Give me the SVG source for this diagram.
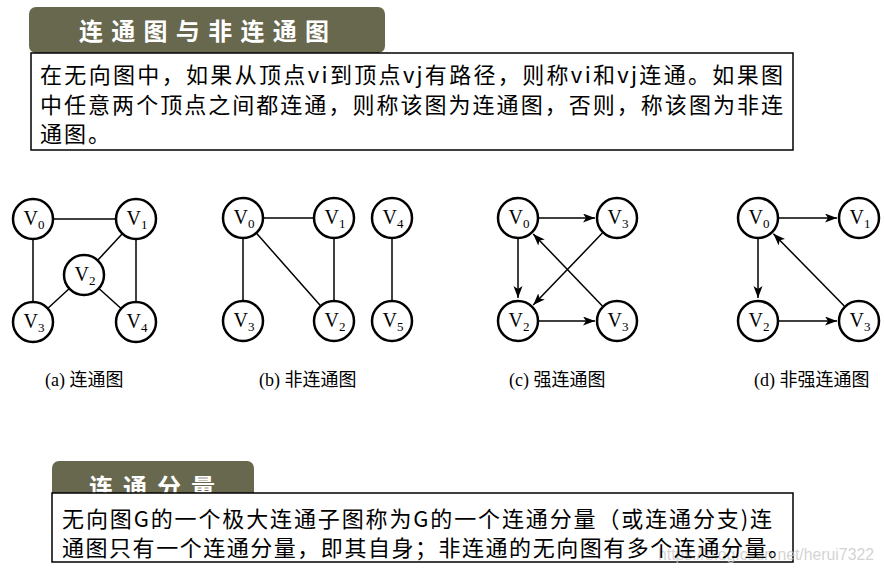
<svg xmlns="http://www.w3.org/2000/svg" width="884" height="571" viewBox="0 0 884 571">
<defs>
<style>
.banner{fill:#68684f}
.bt{fill:#fff;font-family:"Noto Sans CJK SC",sans-serif;font-weight:bold;font-size:24px}
.box{fill:#fff;stroke:#000;stroke-width:1.5}
.bx{fill:#000;font-family:"Noto Sans CJK SC",sans-serif;font-size:22px}
.n{fill:#fff;stroke:#000;stroke-width:2.5}
.v{font-family:"Liberation Serif",serif;font-size:20px;fill:#000;text-anchor:middle}
.s{font-size:13px}
.e{stroke:#000;stroke-width:1.5;fill:none}
.a{stroke:#000;stroke-width:1.5;fill:none;marker-end:url(#arr)}
.cap{font-family:"Liberation Serif","Noto Sans CJK SC",serif;font-size:18px;fill:#000}
.wm{font-family:"Liberation Sans",sans-serif;font-size:16px;fill:#c8c8c8;fill-opacity:0.8}
</style>
<marker id="arr" markerUnits="userSpaceOnUse" markerWidth="13" markerHeight="10" refX="12" refY="4.5" orient="auto">
<path d="M0,0 L12,4.5 L0,9 L3,4.5 z" fill="#000"/>
</marker>
</defs>
<rect width="884" height="571" fill="#fff"/>

<g id="banner1">
<rect class="banner" x="29" y="7" width="356" height="46" rx="7"/>
<text class="bt" x="79" y="40" textLength="250" lengthAdjust="spacing">连通图与非连通图</text>
</g>
<g id="box1">
<rect class="box" x="31" y="53" width="762" height="97"/>
<text class="bx" x="40" y="83" textLength="743" lengthAdjust="spacing">在无向图中，如果从顶点vi到顶点vj有路径，则称vi和vj连通。如果图</text>
<text class="bx" x="40" y="113" textLength="743" lengthAdjust="spacing">中任意两个顶点之间都连通，则称该图为连通图，否则，称该图为非连</text>
<text class="bx" x="40" y="142" textLength="70" lengthAdjust="spacing">通图。</text>
</g>

<g id="connectors">
<!-- (a) -->
<line class="e" x1="33" y1="219" x2="136" y2="219"/>
<line class="e" x1="33" y1="219" x2="33" y2="322"/>
<line class="e" x1="136" y1="219" x2="136" y2="322"/>
<line class="e" x1="136" y1="219" x2="84" y2="275"/>
<line class="e" x1="84" y1="275" x2="33" y2="322"/>
<line class="e" x1="84" y1="275" x2="136" y2="322"/>
<!-- (b) -->
<line class="e" x1="243" y1="218" x2="334" y2="218"/>
<line class="e" x1="243" y1="218" x2="243" y2="321"/>
<line class="e" x1="243" y1="218" x2="334" y2="321"/>
<line class="e" x1="334" y1="218" x2="334" y2="321"/>
<line class="e" x1="392" y1="218" x2="392" y2="321"/>
<!-- (c) -->
<line class="a" x1="539" y1="218" x2="595" y2="218"/>
<line class="a" x1="518" y1="239" x2="518" y2="298"/>
<line class="a" x1="602.4" y1="233.1" x2="533.2" y2="305.1"/>
<line class="a" x1="602.4" y1="305.9" x2="533.2" y2="233.9"/>
<line class="a" x1="539" y1="321" x2="595" y2="321"/>
<!-- (d) -->
<line class="a" x1="779" y1="218" x2="837" y2="218"/>
<line class="a" x1="758" y1="239" x2="758" y2="298"/>
<line class="a" x1="779" y1="321" x2="837" y2="321"/>
<line class="a" x1="844.3" y1="306" x2="773.4" y2="233.7"/>
</g>

<!-- (a) nodes -->
<g id="a-v0"><circle class="n" cx="33" cy="219" r="20"/><text class="v" x="34" y="225">V<tspan class="s" dy="4">0</tspan></text></g>
<g id="a-v1"><circle class="n" cx="136" cy="219" r="20"/><text class="v" x="137" y="225">V<tspan class="s" dy="4">1</tspan></text></g>
<g id="a-v2"><circle class="n" cx="84" cy="275" r="20"/><text class="v" x="85" y="281">V<tspan class="s" dy="4">2</tspan></text></g>
<g id="a-v3"><circle class="n" cx="33" cy="322" r="20"/><text class="v" x="34" y="328">V<tspan class="s" dy="4">3</tspan></text></g>
<g id="a-v4"><circle class="n" cx="136" cy="322" r="20"/><text class="v" x="137" y="328">V<tspan class="s" dy="4">4</tspan></text></g>
<text class="cap" x="45" y="386">(a) 连通图</text>

<!-- (b) nodes -->
<g id="b-v0"><circle class="n" cx="243" cy="218" r="20"/><text class="v" x="244" y="224">V<tspan class="s" dy="4">0</tspan></text></g>
<g id="b-v1"><circle class="n" cx="334" cy="218" r="20"/><text class="v" x="335" y="224">V<tspan class="s" dy="4">1</tspan></text></g>
<g id="b-v4"><circle class="n" cx="392" cy="218" r="20"/><text class="v" x="393" y="224">V<tspan class="s" dy="4">4</tspan></text></g>
<g id="b-v3"><circle class="n" cx="243" cy="321" r="20"/><text class="v" x="244" y="327">V<tspan class="s" dy="4">3</tspan></text></g>
<g id="b-v2"><circle class="n" cx="334" cy="321" r="20"/><text class="v" x="335" y="327">V<tspan class="s" dy="4">2</tspan></text></g>
<g id="b-v5"><circle class="n" cx="392" cy="321" r="20"/><text class="v" x="393" y="327">V<tspan class="s" dy="4">5</tspan></text></g>
<text class="cap" x="259" y="386">(b) 非连通图</text>

<!-- (c) nodes -->
<g id="c-v0"><circle class="n" cx="518" cy="218" r="20"/><text class="v" x="519" y="224">V<tspan class="s" dy="4">0</tspan></text></g>
<g id="c-v3a"><circle class="n" cx="617" cy="218" r="20"/><text class="v" x="618" y="224">V<tspan class="s" dy="4">3</tspan></text></g>
<g id="c-v2"><circle class="n" cx="518" cy="321" r="20"/><text class="v" x="519" y="327">V<tspan class="s" dy="4">2</tspan></text></g>
<g id="c-v3b"><circle class="n" cx="617" cy="321" r="20"/><text class="v" x="618" y="327">V<tspan class="s" dy="4">3</tspan></text></g>
<text class="cap" x="509" y="386">(c) 强连通图</text>

<!-- (d) nodes -->
<g id="d-v0"><circle class="n" cx="758" cy="218" r="20"/><text class="v" x="759" y="224">V<tspan class="s" dy="4">0</tspan></text></g>
<g id="d-v1"><circle class="n" cx="859" cy="218" r="20"/><text class="v" x="860" y="224">V<tspan class="s" dy="4">1</tspan></text></g>
<g id="d-v2"><circle class="n" cx="758" cy="321" r="20"/><text class="v" x="759" y="327">V<tspan class="s" dy="4">2</tspan></text></g>
<g id="d-v3"><circle class="n" cx="859" cy="321" r="20"/><text class="v" x="860" y="327">V<tspan class="s" dy="4">3</tspan></text></g>
<text class="cap" x="754" y="386">(d) 非强连通图</text>

<g id="banner2">
<rect class="banner" x="52" y="461" width="202" height="40" rx="7"/>
<text class="bt" x="89" y="496" textLength="126" lengthAdjust="spacing">连通分量</text>
</g>
<g id="box2">
<rect class="box" x="52" y="493" width="741" height="69"/>
<text class="wm" x="658" y="560" textLength="216" lengthAdjust="spacingAndGlyphs">https://blog.csdn.net/herui7322</text>
<text class="bx" x="62" y="527" textLength="710" lengthAdjust="spacing">无向图G的一个极大连通子图称为G的一个连通分量（或连通分支)连</text>
<text class="bx" x="62" y="556" textLength="728" lengthAdjust="spacing">通图只有一个连通分量，即其自身；非连通的无向图有多个连通分量。</text>
</g>
</svg>
